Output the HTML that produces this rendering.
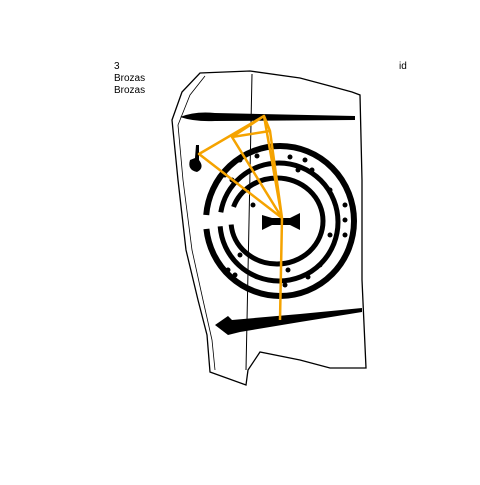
<!DOCTYPE html>
<html><head><meta charset="utf-8"><style>
body{margin:0;background:#fff;width:480px;height:480px;overflow:hidden}
text{font-family:"Liberation Sans",sans-serif;font-size:10px;fill:#000}
</style></head><body>
<svg width="480" height="480">
<g fill="none" stroke="#000">
<path stroke-width="1.3" d="M200,73 L250,71 L300,78 L330,86 L352,92 L360,95 L362,180 L362,280 L366,368 L330,368 L300,360 L260,352 L248,370 L246,385 L210,372 L207,335 L198,300 L186,250 L178,180 L172,120 L182,92 Z"/>
<path stroke-width="0.8" d="M205,76 L190,95 L178,125 L183,180 L192,250 L203,300 L212,340 L215,370"/>
<line x1="252" y1="74" x2="246" y2="370" stroke-width="1"/>
<ellipse cx="280" cy="221" rx="74" ry="75" stroke-width="6" stroke-dasharray="226 14 300"/>
<ellipse cx="279" cy="222" rx="59" ry="59" stroke-width="5" stroke-dasharray="181 14 300"/>
<ellipse cx="277" cy="221" rx="46" ry="43" stroke-width="5" stroke-dasharray="136 18 250"/>
</g>
<g fill="#000">
<circle cx="240" cy="160" r="2.5"/><circle cx="225" cy="175" r="2.5"/><circle cx="232" cy="180" r="2.5"/><circle cx="257" cy="156" r="2.5"/><circle cx="290" cy="157" r="2.5"/><circle cx="305" cy="160" r="2.5"/><circle cx="312" cy="170" r="2.5"/><circle cx="330" cy="190" r="2.5"/><circle cx="345" cy="205" r="2.5"/><circle cx="345" cy="220" r="2.5"/><circle cx="330" cy="235" r="2.5"/><circle cx="345" cy="235" r="2.5"/><circle cx="320" cy="265" r="2.5"/><circle cx="308" cy="277" r="2.5"/><circle cx="288" cy="270" r="2.5"/><circle cx="240" cy="255" r="2.5"/><circle cx="228" cy="270" r="2.5"/><circle cx="235" cy="275" r="2.5"/><circle cx="253" cy="205" r="2.5"/><circle cx="246" cy="190" r="2.5"/><circle cx="298" cy="170" r="2.5"/><circle cx="285" cy="285" r="2.5"/>
</g>
<path d="M180,117 Q195,111 215,113 L355,116 L355,120 L215,121 Q195,122 180,117 Z" fill="#000"/>
<path d="M215,325 L228,316 L232,320 L300,314 L362,308 L362,312 L300,322 L240,332 L228,335 Z" fill="#000"/>
<path d="M196,145 L199,145 L199,160 Q205,168 197,172 Q187,170 190,160 L195,158 Z" fill="#000"/>
<path d="M262,215 L272,218 L290,218 L300,213 L300,230 L290,225 L272,225 L262,230 Z" fill="#000"/>
<g stroke="#f5a300" stroke-width="2.5" fill="none" stroke-linejoin="round">
<polyline points="280,320 282,218 199,154 264,116 282,218 232,137 264,116 270,131 282,218"/>
<line x1="232" y1="137" x2="270" y2="131"/>
</g>
<text x="114" y="69">3</text>
<text x="114" y="81">Brozas</text>
<text x="114" y="93">Brozas</text>
<text x="399" y="69">id</text>
</svg>
</body></html>
